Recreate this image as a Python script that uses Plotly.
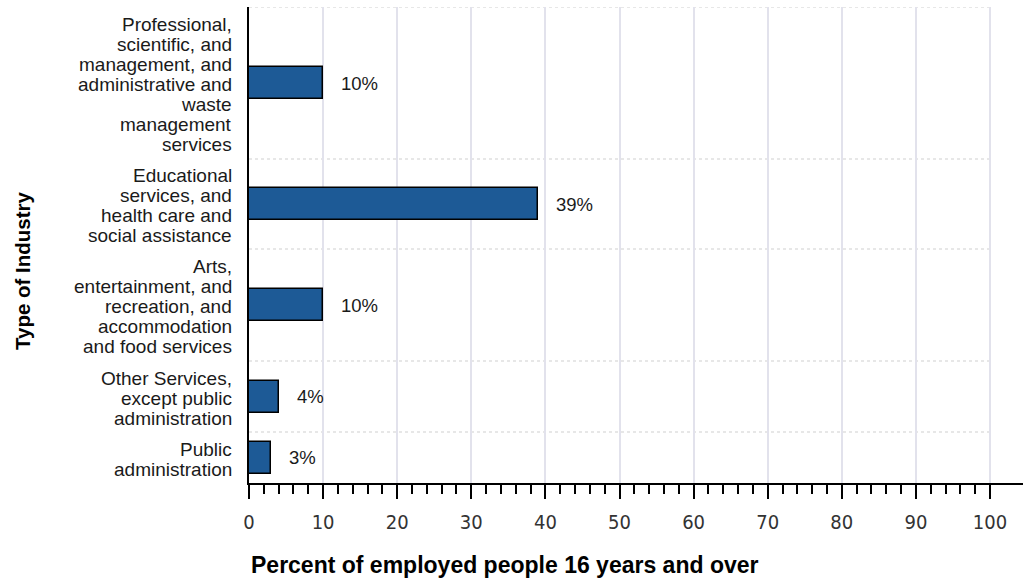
import plotly.graph_objects as go

# ---- data ----
categories = [
    "Professional, scientific, and management, and administrative and waste management services",
    "Educational services, and health care and social assistance",
    "Arts, entertainment, and recreation, and accommodation and food services",
    "Other Services, except public administration",
    "Public administration",
]
label_lines = [
    ["Professional,", "scientific, and", "management, and", "administrative and", "waste", "management", "services"],
    ["Educational", "services, and", "health care and", "social assistance"],
    ["Arts,", "entertainment, and", "recreation, and", "accommodation", "and food services"],
    ["Other Services,", "except public", "administration"],
    ["Public", "administration"],
]
values = [10, 39, 10, 4, 3]
x_ticks = list(range(0, 101, 10))
x_title = "Percent of employed people 16 years and over"
y_title = "Type of Industry"

# ---- layout helpers (band heights in px of the plot area) ----
band_heights = [152, 90, 112, 71, 51]
bounds = [0]
for h in band_heights:
    bounds.append(bounds[-1] + h)
centers = [(bounds[i] + bounds[i + 1]) / 2 for i in range(len(band_heights))]
total_h = bounds[-1]
line_gap = 20

W, H = 1029, 582
ML, MR, MT, MB = 249, 6, 7, 99
plot_w = W - ML - MR
px_per_unit = 741 / 100.0
x_max = plot_w / px_per_unit

BAR_COLOR = "#1d5a96"
TEXT = "#1a1a1a"

fig = go.Figure()
fig.add_trace(go.Bar(
    x=values, y=centers, orientation="h", width=32,
    marker=dict(color=BAR_COLOR, line=dict(color="#000000", width=1.5)),
    hovertext=categories, hoverinfo="text+x", showlegend=False,
))

annotations = []
# category labels, one annotation per line
for c, lines in zip(centers, label_lines):
    n = len(lines)
    for i, ln in enumerate(lines):
        annotations.append(dict(
            x=0, xref="x", y=c + (i - (n - 1) / 2) * line_gap + 1.5, yref="y",
            text=ln, showarrow=False, xanchor="right", yanchor="middle",
            xshift=-15, font=dict(family="Liberation Sans, Arial, sans-serif", size=19, color=TEXT),
        ))
# value labels
for v, c in zip(values, centers):
    annotations.append(dict(
        x=v, xref="x", y=c, yref="y", text=f"{v}%", showarrow=False,
        xanchor="left", yanchor="middle", xshift=16,
        font=dict(family="Liberation Sans, Arial, sans-serif", size=18.5, color=TEXT),
    ))
# axis titles
annotations.append(dict(
    x=(505 - ML) / plot_w, xref="paper", y=-(565 - (H - MB)) / total_h, yref="paper",
    text=f"<b>{x_title}</b>", showarrow=False, xanchor="center", yanchor="middle",
    font=dict(family="Liberation Sans, Arial, sans-serif", size=23, color="#000000"),
))
annotations.append(dict(
    x=(22 - ML) / plot_w, xref="paper", y=1 - (271 - MT) / total_h, yref="paper",
    text=f"<b>{y_title}</b>", showarrow=False, textangle=-90,
    xanchor="center", yanchor="middle",
    font=dict(family="Liberation Sans, Arial, sans-serif", size=20.5, color="#000000"),
))

shapes = []
for b in bounds[:-1]:
    shapes.append(dict(
        type="line", xref="x", yref="y", x0=0, x1=100, y0=b, y1=b,
        line=dict(color="#cfcfcf", width=1, dash="dot"), layer="below",
    ))

fig.update_layout(
    width=W, height=H,
    margin=dict(l=ML, r=MR, t=MT, b=MB, pad=0),
    paper_bgcolor="white", plot_bgcolor="white",
    bargap=0,
    annotations=annotations, shapes=shapes,
    xaxis=dict(
        range=[0, x_max], tickmode="array", tickvals=x_ticks,
        ticktext=[str(t) for t in x_ticks],
        showgrid=True, gridcolor="#e2e2ec", gridwidth=1.5,
        zeroline=False,
        showline=True, linecolor="#000000", linewidth=2,
        ticks="outside", ticklen=14, tickwidth=2, tickcolor="#000000",
        ticklabelstandoff=6,
        tickfont=dict(family="Liberation Sans Narrow, DejaVu Sans Condensed, sans-serif", size=20, color="#333333"),
        minor=dict(tickmode="array", tickvals=list(range(0, 101, 2)), ticks="outside",
                   ticklen=9, tickwidth=1.5, tickcolor="#000000", showgrid=False),
        fixedrange=True,
    ),
    yaxis=dict(
        range=[total_h, 0], showticklabels=False, ticks="",
        showgrid=False, zeroline=False,
        showline=True, linecolor="#000000", linewidth=2,
        fixedrange=True,
    ),
)

fig.write_html(
    "out.html",
    config={"displayModeBar": False},
    post_script="document.body.style.margin='0';document.body.style.overflow='hidden';",
)
